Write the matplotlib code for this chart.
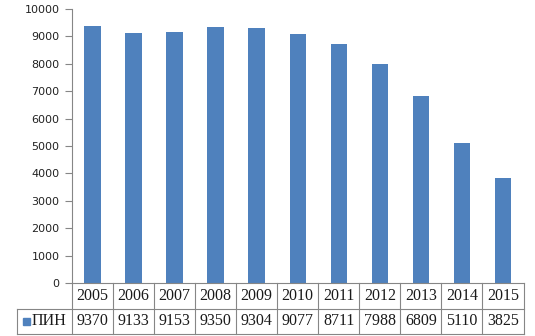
import matplotlib
matplotlib.use("Agg")
import matplotlib.pyplot as plt
from matplotlib.patches import Rectangle

years = ["2005", "2006", "2007", "2008", "2009", "2010", "2011", "2012", "2013", "2014", "2015"]
values = [9370, 9133, 9153, 9350, 9304, 9077, 8711, 7988, 6809, 5110, 3825]
series_name = "ПИН"
yticks = list(range(0, 10001, 1000))

W, H = 535, 336
fig = plt.figure(figsize=(W / 100, H / 100), dpi=100)
left, right, top, bottom = 72, 523.5, 9, 283
ax = fig.add_axes([left / W, 1 - bottom / H, (right - left) / W, (bottom - top) / H])

bar_color = "#4F81BD"
line_color = "#868686"
n = len(years)
x = list(range(n))
ax.bar(x, values, width=0.4, color=bar_color)
ax.set_xlim(-0.5, n - 0.5)
ax.set_ylim(0, 10000)
ax.set_yticks(yticks)
ax.set_yticklabels([str(v) for v in yticks], fontsize=8, family="DejaVu Sans")
ax.tick_params(axis="y", length=5, color=line_color, pad=4, labelcolor="#222222")
ax.set_xticks([])
for s in ["top", "right"]:
    ax.spines[s].set_visible(False)
for s in ["left", "bottom"]:
    ax.spines[s].set_color(line_color)
    ax.spines[s].set_linewidth(0.8)

# data table below the axis
row1_top, row1_bot, row2_bot = 283, 309, 333.5
legend_left = 16.5
col_w = (right - left) / n

def fx(px):
    return px / W

def fy(py):
    return 1 - py / H

lk = dict(color=line_color, lw=0.8, transform=fig.transFigure, clip_on=False)
fig.lines.append(plt.Line2D([fx(legend_left), fx(right)], [fy(row1_bot)] * 2, **lk))
fig.lines.append(plt.Line2D([fx(legend_left), fx(right)], [fy(row2_bot)] * 2, **lk))
for i in range(n + 1):
    xp = left + i * col_w
    fig.lines.append(plt.Line2D([fx(xp)] * 2, [fy(row1_top), fy(row2_bot)], **lk))
fig.lines.append(plt.Line2D([fx(legend_left)] * 2, [fy(row1_bot), fy(row2_bot)], **lk))

tk = dict(fontsize=11.5, family="Liberation Serif", ha="center", va="center", color="#1a1a1a")
for i in range(n):
    cx = left + (i + 0.5) * col_w
    fig.text(fx(cx), fy((row1_top + row1_bot) / 2), years[i], **tk)
    fig.text(fx(cx), fy((row1_bot + row2_bot) / 2), str(values[i]), **tk)

fig.patches.append(Rectangle((fx(22.5), fy(325)), 7.5 / W, 7.5 / H, color=bar_color, transform=fig.transFigure))
fig.text(fx(32), fy((row1_bot + row2_bot) / 2), series_name, fontsize=11.5,
         family="Liberation Serif", ha="left", va="center", color="#1a1a1a")

fig.savefig("out.png", dpi=100)
